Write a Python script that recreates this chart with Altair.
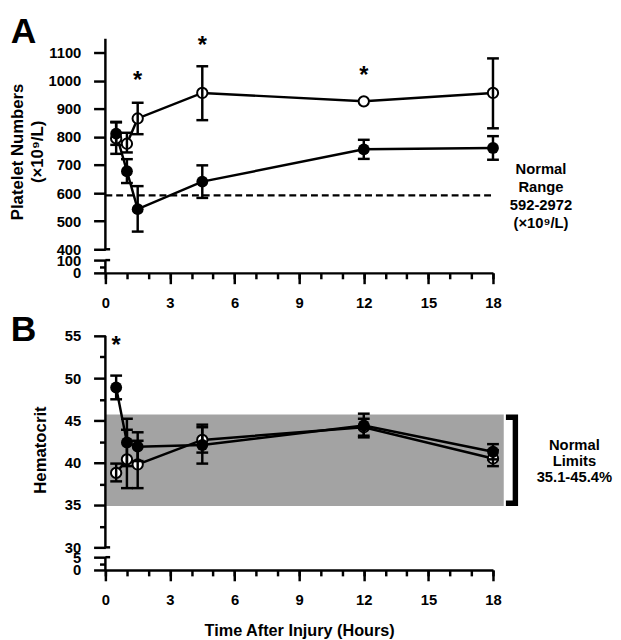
import altair as alt
import pandas as pd

FONT = "Liberation Sans"

# ---------------- data ----------------
hours = [0.5, 1.0, 1.5, 4.5, 12.0, 18.0]

# Panel A: platelet numbers (x10^9/L)
plt_filled_mean = [812, 678, 543, 641, 756, 761]
plt_filled_hi = [854, 721, 625, 699, 790, 803]
plt_filled_lo = [772, 636, 463, 583, 722, 719]
plt_open_mean = [795, 776, 866, 957, 927, 957]
plt_open_hi = [852, 815, 922, 1052, None, 1080]   # error bar at 12 h hidden by marker
plt_open_lo = [740, 745, 810, 860, None, 831]
plt_star_hours = [1.5, 4.5, 12.0]
plt_star_y = [975, 1098, 993]
plt_normal_low = 592
plt_note = ["Normal", "Range", "592-2972", "(×10⁹/L)"]
plt_note_pos = (20.23, 684)
plt_title = ["Platelet Numbers", "(×10⁹/L)"]
plt_title_pos = ([-3.84, -2.90], 747)

# Panel B: hematocrit (%)
hct_filled_mean = [48.9, 42.4, 41.9, 42.1, 44.4, 41.3]
hct_filled_hi = [50.3, 45.2, 43.6, 44.2, 45.8, 42.2]
hct_filled_lo = [47.5, 39.6, 40.2, 39.9, 43.0, 40.4]
hct_open_mean = [38.8, 40.4, 39.8, 42.7, 44.2, 40.5]
hct_open_hi = [39.9, 43.9, 42.6, 44.5, 45.2, 41.5]
hct_open_lo = [37.8, 37.0, 37.0, 41.2, 43.2, 39.6]
hct_star_hours = [0.5]
hct_star_y = [53.0]
hct_band = [34.9, 45.7]
hct_bracket = [35.22, 45.38]
hct_note = ["Normal", "Limits", "35.1-45.4%"]
hct_note_pos = (21.78, 42.1)
hct_title = ["Hematocrit"]
hct_title_pos = ([-2.74], 41.5)

x_major = [0, 3, 6, 9, 12, 15, 18]
x_minor = list(range(0, 19))
yA_ticks = [0, 100, 400, 500, 600, 700, 800, 900, 1000, 1100]
yA_minor = [50]
yA_segments = [(0, 100), (400, 1150)]
yB_ticks = [0, 5, 30, 35, 40, 45, 50, 55]
yB_minor = [2.5, 32.5, 37.5, 42.5, 47.5, 52.5]
yB_segments = [(0, 5), (30, 55)]
break_mark_len = 0.22  # hours, short stub to the right of the axis at each break
letters = {"A": (-4.4, 1136), "B": (-4.4, 54.4)}

W = 394
H = 238

xscale = alt.Scale(domain=[0, 18], nice=False, zero=False, padding=0)
yA_scale = alt.Scale(domain=[0, 100, 400, 1150], range=[H, 225, 214, 0], nice=False, zero=False)
yB_scale = alt.Scale(domain=[0, 5, 30, 55], range=[H, 225, 215, 0], nice=False, zero=False)


def series(mean, lo, hi, grp):
    return pd.DataFrame({"t": hours, "mean": mean, "lo": lo, "hi": hi, "grp": grp})


def X(f, axis=None):
    return alt.X(f"{f}:Q", scale=xscale, axis=axis)


def Yf(f, scale, axis=None):
    return alt.Y(f"{f}:Q", scale=scale, axis=axis)


def x_major_axis(title):
    kw = dict(
        values=x_major, orient="bottom", tickSize=11, tickWidth=2.5, tickColor="black",
        domainWidth=2.5, domainColor="black", labelFont=FONT, labelFontSize=15,
        labelFontWeight="bold", labelColor="black", labelPadding=12, labelFlush=False,
        labelOverlap=False, grid=False, format="d",
    )
    if title:
        kw.update(title=title, titleFont=FONT, titleFontSize=16.5, titleFontWeight="bold",
                  titleColor="black", titlePadding=16)
    else:
        kw.update(title=None)
    return alt.Axis(**kw)


x_minor_axis = alt.Axis(values=x_minor, orient="bottom", tickSize=6, tickWidth=2.5,
                        tickColor="black", labels=False, domain=False, title=None, grid=False)


def text_layer(df, yscale, **kw):
    return alt.Chart(df).mark_text(font=FONT, fontWeight="bold", color="black", **kw).encode(
        x=X("x"), y=Yf("y", yscale), text="s")


def panel(open_df, filled_df, yscale, yticks, yminor, segments, stars, ytitle, ytitle_pos,
          note, note_pos, note_lh, extra_bottom, extra_top, x_title, letter):
    seg_df = pd.DataFrame({"x": [0] * len(segments), "y0": [s[0] for s in segments],
                           "y1": [s[1] for s in segments]})
    brk = [segments[0][1], segments[1][0]]
    brk_df = pd.DataFrame({"x0": [0, 0], "x1": [break_mark_len] * 2, "y": brk})
    both = pd.concat([open_df, filled_df])
    layers = []
    layers += extra_bottom
    # y axis line (broken) with break stubs
    layers.append(alt.Chart(seg_df).mark_rule(color="black", strokeWidth=2.5).encode(
        x=X("x"), y=Yf("y0", yscale), y2="y1"))
    layers.append(alt.Chart(brk_df).mark_rule(color="black", strokeWidth=2.5).encode(
        x=X("x0"), x2="x1", y=Yf("y", yscale)))
    # connecting lines
    layers.append(alt.Chart(both).mark_line(color="black", strokeWidth=2.5).encode(
        x=X("t"), y=Yf("mean", yscale), detail="grp:N"))
    # open points
    layers.append(alt.Chart(open_df).mark_point(shape="circle", filled=True, fill="white",
                                                stroke="black", strokeWidth=2, size=110,
                                                opacity=1).encode(
        x=X("t"), y=Yf("mean", yscale)))
    # error bars
    layers.append(alt.Chart(both).mark_rule(color="black", strokeWidth=2.5).encode(
        x=X("t"), y=Yf("lo", yscale), y2="hi"))
    for f in ["lo", "hi"]:
        layers.append(alt.Chart(both).mark_tick(color="black", orient="horizontal", size=12,
                                                thickness=2.5, opacity=1).encode(
            x=X("t"), y=Yf(f, yscale)))
    # filled points
    layers.append(alt.Chart(filled_df).mark_circle(color="black", size=145, opacity=1).encode(
        x=X("t"), y=Yf("mean", yscale)))
    # stars
    star_df = pd.DataFrame({"x": stars[0], "y": stars[1], "s": ["*"] * len(stars[0])})
    layers.append(text_layer(star_df, yscale, fontSize=24, baseline="alphabetic"))
    # note at right
    note_df = pd.DataFrame({"x": [note_pos[0]], "y": [note_pos[1]], "s": [note]})
    layers.append(text_layer(note_df, yscale, fontSize=15, lineHeight=note_lh,
                             align="center", baseline="middle"))
    # y title (rotated)
    yt_df = pd.DataFrame({"x": ytitle_pos[0], "y": [ytitle_pos[1]] * len(ytitle),
                          "s": ytitle})
    layers.append(text_layer(yt_df, yscale, fontSize=17, angle=270, align="center",
                             baseline="alphabetic"))
    # panel letter
    let_df = pd.DataFrame({"x": [letters[letter][0]], "y": [letters[letter][1]], "s": [letter]})
    layers.append(text_layer(let_df, yscale, fontSize=36, align="left", baseline="alphabetic"))
    layers += extra_top
    # axes
    y_axis = alt.Axis(values=yticks, orient="left", tickSize=12, tickWidth=2.5,
                      tickColor="black", domain=False, labelFont=FONT, labelFontSize=15,
                      labelFontWeight="bold", labelColor="black", labelPadding=13,
                      labelOverlap=False, labelFlush=False, grid=False, title=None,
                      format="d")
    layers.append(alt.Chart(open_df).mark_point(opacity=0).encode(
        x=X("t", x_major_axis(x_title)), y=Yf("mean", yscale, y_axis)))
    layers.append(alt.Chart(open_df).mark_point(opacity=0).encode(
        x=X("t", x_minor_axis), y=Yf("mean", yscale)))
    y_minor_axis = alt.Axis(values=yminor, orient="left", tickSize=6, tickWidth=2.5,
                            tickColor="black", labels=False, domain=False, title=None,
                            grid=False)
    layers.append(alt.Chart(open_df).mark_point(opacity=0).encode(
        x=X("t"), y=Yf("mean", yscale, y_minor_axis)))
    return alt.layer(*layers).resolve_axis(x="independent", y="independent").properties(
        width=W, height=H)


# ---------- Panel A ----------
openA = series(plt_open_mean, plt_open_lo, plt_open_hi, "open")
filledA = series(plt_filled_mean, plt_filled_lo, plt_filled_hi, "filled")
dashA = pd.DataFrame({"x0": [0], "x1": [18], "y": [plt_normal_low]})
dash_layer = alt.Chart(dashA).mark_rule(color="black", strokeWidth=2.5, strokeDash=[7, 4]).encode(
    x=X("x0"), x2="x1", y=Yf("y", yA_scale))
panelA = panel(openA, filledA, yA_scale, yA_ticks, yA_minor, yA_segments,
               (plt_star_hours, plt_star_y), plt_title, plt_title_pos,
               plt_note, plt_note_pos, 18, [dash_layer], [], None, "A")

# ---------- Panel B ----------
openB = series(hct_open_mean, hct_open_lo, hct_open_hi, "open")
filledB = series(hct_filled_mean, hct_filled_lo, hct_filled_hi, "filled")
bandB = pd.DataFrame({"x0": [0], "x1": [18.5], "y0": [hct_band[0]], "y1": [hct_band[1]]})
band_layer = alt.Chart(bandB).mark_rect(color="#a3a3a3").encode(
    x=X("x0"), x2="x1", y=Yf("y0", yB_scale), y2="y1")
bracketB = pd.DataFrame({"x": [18.6, 19.04, 19.04, 18.6],
                         "y": [hct_bracket[1], hct_bracket[1], hct_bracket[0], hct_bracket[0]],
                         "o": [0, 1, 2, 3]})
bracket_layer = alt.Chart(bracketB).mark_line(color="black", strokeWidth=5.5,
                                              strokeJoin="miter").encode(
    x=X("x"), y=Yf("y", yB_scale), order="o:Q")
panelB = panel(openB, filledB, yB_scale, yB_ticks, yB_minor, yB_segments,
               (hct_star_hours, hct_star_y), hct_title, hct_title_pos,
               hct_note, hct_note_pos, 16.5, [band_layer], [bracket_layer],
               "Time After Injury (Hours)", "B")

chart = alt.vconcat(panelA, panelB, spacing=64, bounds="flush").properties(
    padding=0).configure_view(stroke=None)

chart.save("out.html", embed_options={"renderer": "svg", "actions": False})
